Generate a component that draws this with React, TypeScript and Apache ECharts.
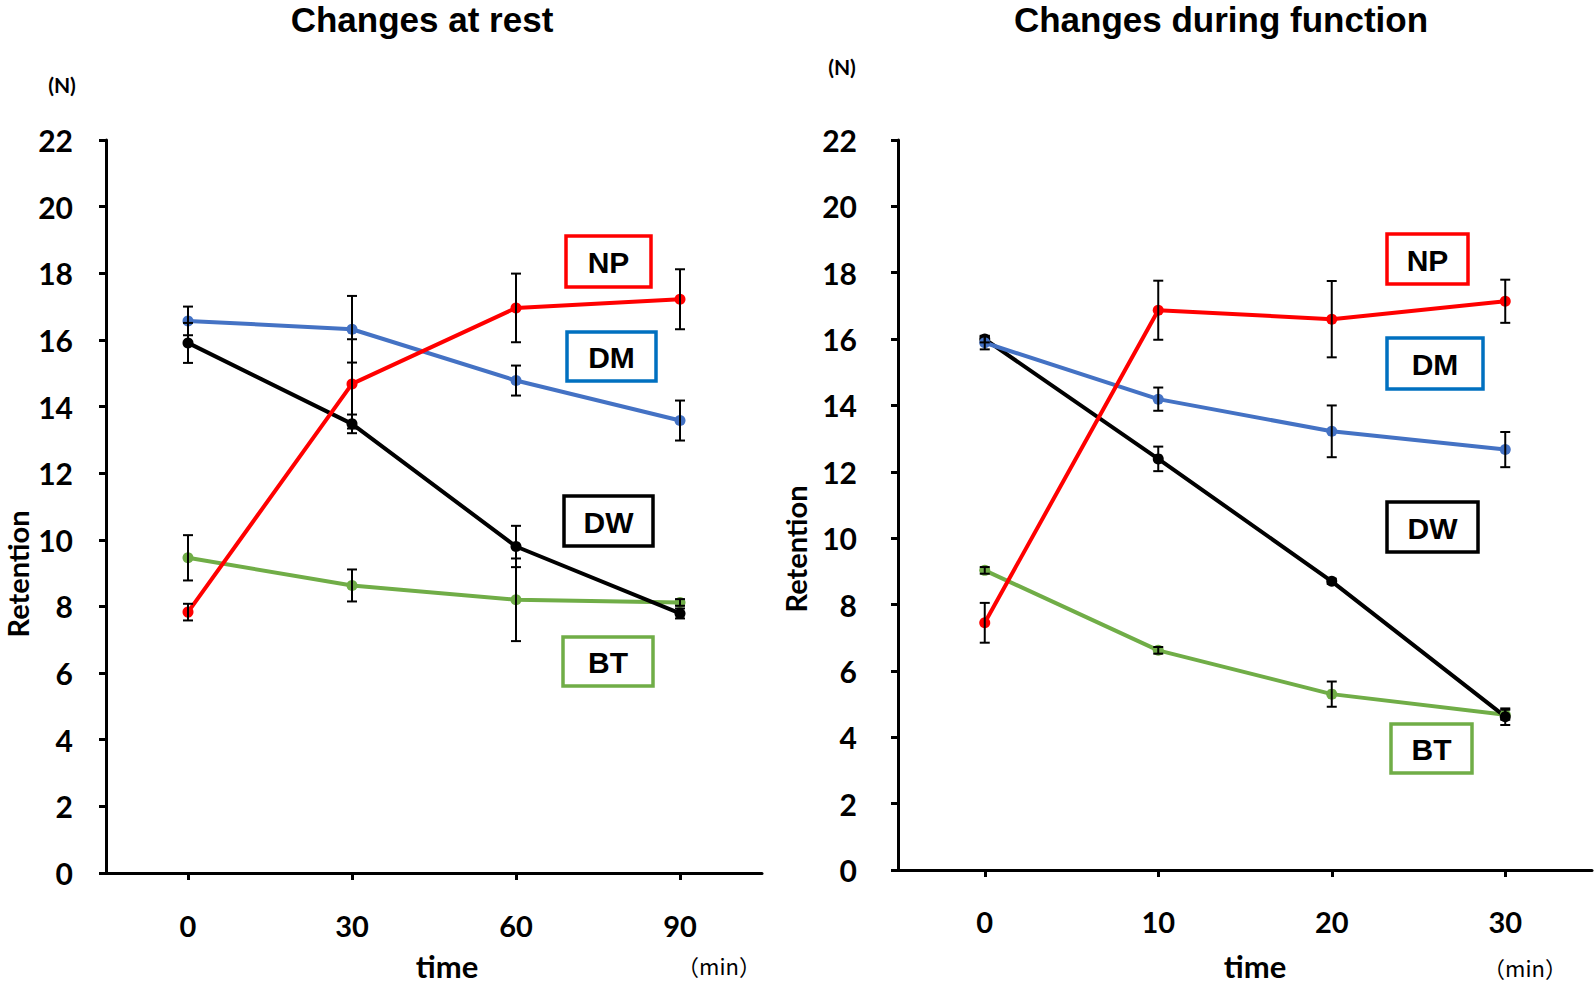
import React, { useEffect, useRef } from "react";
import * as echarts from "echarts";

const restTimes = ["0", "30", "60", "90"];
const funcTimes = ["0", "10", "20", "30"];

const restNP = [7.83, 14.68, 16.96, 17.22];
const restNPErr = [0.25, 1.34, 1.03, 0.9];
const restDM = [16.57, 16.32, 14.78, 13.58];
const restDMErr = [0.43, 1.0, 0.45, 0.6];
const restDW = [15.91, 13.48, 9.8, 7.79];
const restDWErr = [0.6, 0.28, 0.62, 0.15];
const restBT = [9.46, 8.63, 8.2, 8.12];
const restBTErr = [0.68, 0.48, 1.24, 0.1];

const funcNP = [7.45, 16.87, 16.6, 17.14];
const funcNPErr = [0.6, 0.89, 1.15, 0.65];
const funcDM = [15.89, 14.19, 13.22, 12.67];
const funcDMErr = [0.2, 0.35, 0.78, 0.53];
const funcDW = [16.0, 12.39, 8.7, 4.62];
const funcDWErr = [0.1, 0.37, 0.08, 0.25];
const funcBT = [9.03, 6.62, 5.3, 4.68];
const funcBTErr = [0.1, 0.1, 0.38, 0.15];

const yTicks = { min: 0, max: 22, interval: 2 };

const COLORS = { NP: "#ff0000", DM: "#4472c4", DW: "#000000", BT: "#70ad47" };
const BOX_COLORS = { NP: "#ff0000", DM: "#0070c0", DW: "#000000", BT: "#70ad47" };

const NUM_FONT = "Lato, 'Open Sans', sans-serif";
const TITLE_FONT = "bold 35px 'Liberation Sans', Arial, sans-serif";

function errData(vals: number[], errs: number[]) {
  return vals.map((v, i) => [i, v - errs[i], v + errs[i]]);
}

function errRender(params: any, api: any) {
  const x = api.value(0);
  const lo = api.coord([x, api.value(1)]);
  const hi = api.coord([x, api.value(2)]);
  const cw = 5;
  const style = { stroke: "#000", lineWidth: 2 };
  return {
    type: "group",
    children: [
      { type: "line", shape: { x1: lo[0], y1: lo[1], x2: hi[0], y2: hi[1] }, style },
      { type: "line", shape: { x1: lo[0] - cw, y1: lo[1], x2: lo[0] + cw, y2: lo[1] }, style },
      { type: "line", shape: { x1: hi[0] - cw, y1: hi[1], x2: hi[0] + cw, y2: hi[1] }, style },
    ],
  };
}

function lineSeries(name: string, data: number[], idx: number) {
  return {
    type: "line",
    name,
    xAxisIndex: idx,
    yAxisIndex: idx,
    data,
    symbol: "circle",
    symbolSize: 11,
    lineStyle: { width: 4, color: (COLORS as any)[name] },
    itemStyle: { color: (COLORS as any)[name] },
    z: 3,
  };
}

function errSeries(vals: number[], errs: number[], idx: number) {
  return {
    type: "custom",
    xAxisIndex: idx,
    yAxisIndex: idx,
    data: errData(vals, errs),
    encode: { x: 0, y: [1, 2] },
    renderItem: errRender,
    z: 5,
    silent: true,
  };
}

function box(label: string, x: number, y: number, w: number, h: number) {
  return {
    type: "group",
    x,
    y,
    children: [
      {
        type: "rect",
        shape: { x: 0, y: 0, width: w, height: h },
        style: { fill: "#fff", stroke: (BOX_COLORS as any)[label], lineWidth: 3.5 },
      },
      {
        type: "text",
        x: w / 2,
        y: h / 2 + 1,
        style: {
          text: label,
          fill: "#000",
          font: "bold 30px 'Liberation Sans', Arial, sans-serif",
          align: "center",
          verticalAlign: "middle",
        },
      },
    ],
  };
}

function xAxis(idx: number, cats: string[], margin: number) {
  return {
    type: "category",
    gridIndex: idx,
    data: cats,
    boundaryGap: true,
    axisLine: { lineStyle: { color: "#000", width: 3 } },
    axisTick: { show: true, alignWithLabel: true, length: 7, lineStyle: { color: "#000", width: 3 } },
    axisLabel: { color: "#000", fontFamily: NUM_FONT, fontWeight: "bold", fontSize: 29, margin },
    splitLine: { show: false },
  };
}

function yAxis(idx: number, margin: number) {
  return {
    type: "value",
    gridIndex: idx,
    ...yTicks,
    axisLine: { show: true, lineStyle: { color: "#000", width: 3 } },
    axisTick: { show: true, length: 7, lineStyle: { color: "#000", width: 3 } },
    axisLabel: { color: "#000", fontFamily: NUM_FONT, fontWeight: "bold", fontSize: 30, margin },
    splitLine: { show: false },
  };
}

function txt(text: string, x: number, y: number, font: string, rotation = 0) {
  return {
    type: "text",
    x,
    y,
    rotation,
    style: { text, fill: "#000", font, align: "center", verticalAlign: "middle" },
  };
}

export default function App() {
  const ref = useRef<HTMLDivElement>(null);
  useEffect(() => {
    if (!ref.current) return;
    const chart = echarts.init(ref.current, null, { renderer: "svg" });
    chart.setOption({
      animation: false,
      backgroundColor: "#ffffff",
      grid: [
        { left: 106, top: 140, width: 656, height: 733, outerBoundsMode: "none", containLabel: false },
        { left: 898, top: 140, width: 694, height: 730, outerBoundsMode: "none", containLabel: false },
      ],
      xAxis: [xAxis(0, restTimes, 38), xAxis(1, funcTimes, 37)],
      yAxis: [yAxis(0, 33), yAxis(1, 41)],
      series: [
        lineSeries("BT", restBT, 0),
        lineSeries("DW", restDW, 0),
        lineSeries("DM", restDM, 0),
        lineSeries("NP", restNP, 0),
        errSeries(restBT, restBTErr, 0),
        errSeries(restDW, restDWErr, 0),
        errSeries(restDM, restDMErr, 0),
        errSeries(restNP, restNPErr, 0),
        lineSeries("BT", funcBT, 1),
        lineSeries("DW", funcDW, 1),
        lineSeries("DM", funcDM, 1),
        lineSeries("NP", funcNP, 1),
        errSeries(funcBT, funcBTErr, 1),
        errSeries(funcDW, funcDWErr, 1),
        errSeries(funcDM, funcDMErr, 1),
        errSeries(funcNP, funcNPErr, 1),
      ],
      graphic: [
        txt("Changes at rest", 422, 19, TITLE_FONT),
        txt("Changes during function", 1221, 19, TITLE_FONT),
        txt("(N)", 62, 84, `bold 21px ${NUM_FONT}`),
        txt("(N)", 842, 66, `bold 21px ${NUM_FONT}`),
        txt("Retention", 17, 574, `bold 29px ${NUM_FONT}`, Math.PI / 2),
        txt("Retention", 795, 549, `bold 29px ${NUM_FONT}`, Math.PI / 2),
        txt("time", 447, 966, `bold 31px ${NUM_FONT}`),
        txt("time", 1255, 966, `bold 31px ${NUM_FONT}`),
        txt("（min）", 719, 965, "22px 'Noto Sans CJK JP', sans-serif"),
        txt("（min）", 1525, 967, "22px 'Noto Sans CJK JP', sans-serif"),
        box("NP", 566, 236, 85, 51),
        box("DM", 567, 332, 89, 49),
        box("DW", 564, 496, 89, 50),
        box("BT", 563, 637, 90, 49),
        box("NP", 1387, 234, 81, 50),
        box("DM", 1387, 338, 96, 51),
        box("DW", 1387, 502, 91, 50),
        box("BT", 1391, 724, 81, 49),
      ],
    });
    return () => chart.dispose();
  }, []);
  return (
    <div
      ref={ref}
      style={{ position: "absolute", left: 0, top: 0, width: 1594, height: 985, background: "#fff" }}
    />
  );
}
